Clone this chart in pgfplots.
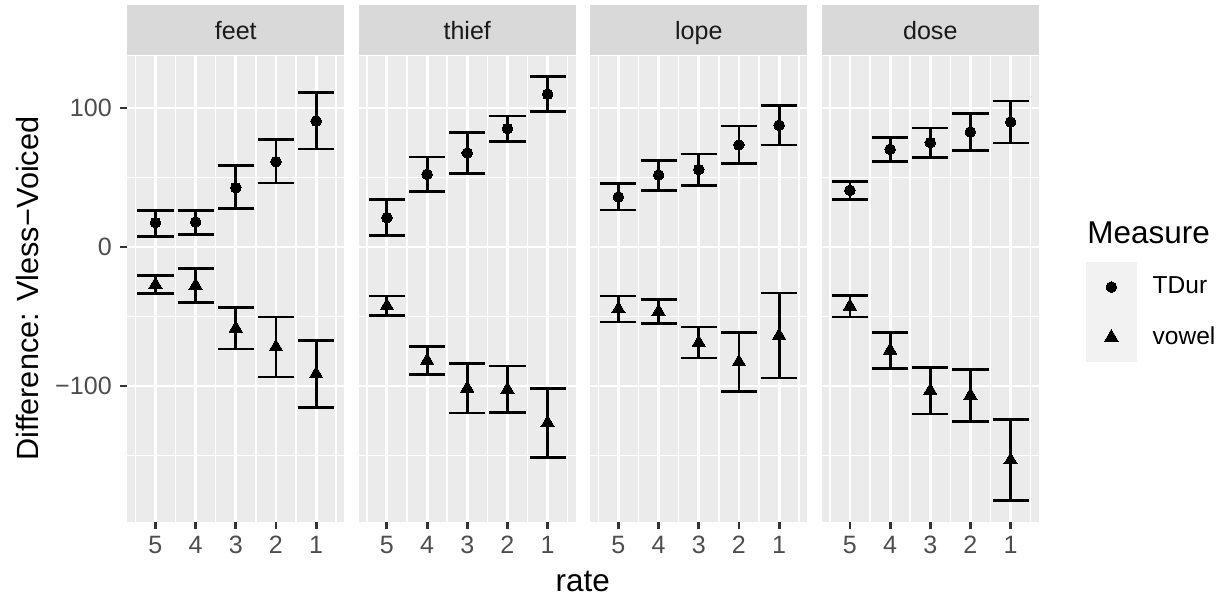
\documentclass[border=0pt]{standalone}
\usepackage{fontspec}
\setmainfont{Liberation Sans}
\usepackage{pgfplots}
\usepackage{pgfplotstable}
\pgfplotsset{compat=1.18}
\definecolor{panelbg}{HTML}{EBEBEB}
\definecolor{stripgrey}{HTML}{D9D9D9}
\definecolor{ticklab}{HTML}{4D4D4D}
\definecolor{tickgrey}{HTML}{333333}
\definecolor{striptext}{HTML}{1A1A1A}
\definecolor{keygrey}{HTML}{F2F2F2}

% x: 1..5 correspond to rate 5,4,3,2,1
\pgfplotstableread{
x y lo hi
1 17.5 7.7 26.4
2 18.0 9.1 26.4
3 42.7 27.6 58.3
4 61.4 46.0 77.3
5 90.6 70.5 111.0
}\feetT
\pgfplotstableread{
x y lo hi
1 -27.1 -33.5 -20.6
2 -27.7 -40.0 -15.5
3 -58.5 -73.4 -43.6
4 -71.9 -93.5 -50.4
5 -91.3 -115.5 -67.1
}\feetV
\pgfplotstableread{
x y lo hi
1 21.1 8.4 34.1
2 52.3 39.9 64.7
3 67.6 53.0 82.3
4 85.2 75.8 94.2
5 109.9 97.4 122.6
}\thiefT
\pgfplotstableread{
x y lo hi
1 -42.4 -49.4 -35.3
2 -81.7 -91.8 -71.7
3 -101.6 -119.4 -83.9
4 -102.4 -119.2 -85.6
5 -126.5 -151.3 -101.7
}\thiefV
\pgfplotstableread{
x y lo hi
1 36.0 26.6 45.6
2 51.8 40.6 62.4
3 55.7 44.2 66.9
4 73.4 60.0 87.0
5 87.6 73.4 101.7
}\lopeT
\pgfplotstableread{
x y lo hi
1 -44.6 -54.0 -35.3
2 -46.4 -54.9 -37.9
3 -68.8 -79.9 -57.6
4 -82.7 -104.0 -61.4
5 -63.7 -94.2 -33.1
}\lopeV
\pgfplotstableread{
x y lo hi
1 40.8 34.1 47.3
2 70.3 61.4 78.9
3 75.1 64.5 85.6
4 82.7 69.4 96.0
5 89.9 74.8 105.0
}\doseT
\pgfplotstableread{
x y lo hi
1 -42.7 -50.4 -35.0
2 -74.3 -87.3 -61.4
3 -103.3 -120.1 -86.5
4 -106.8 -125.4 -88.2
5 -153.2 -182.2 -124.2
}\doseV

\pgfplotsset{
  panel/.style={
    scale only axis, width=81.34pt, height=174.75pt, anchor=south west,
    xmin=0.3, xmax=5.7, ymin=-197.6, ymax=137.6,
    axis background/.style={fill=panelbg},
    axis line style={draw=none},
    xtick={1,2,3,4,5}, xticklabels={5,4,3,2,1},
    ytick={-100,0,100}, yticklabels={−100,0,100},
    minor xtick={0.5,1.5,2.5,3.5,4.5,5.5}, minor ytick={-150,-50,50},
    grid=both,
    major grid style={draw=white, line width=1.07pt},
    minor grid style={draw=white, line width=0.53pt},
    xtick pos=left, ytick pos=left, tick align=outside,
    major tick length=2.75pt, minor tick length=0pt,
    major tick style={draw=tickgrey, line width=1.07pt},
    tick label style={font=\fontsize{9.4}{11}\selectfont, text=ticklab},
    xticklabel style={anchor=north, inner sep=0pt, yshift=-2.4pt},
    yticklabel style={anchor=east, inner sep=0pt, xshift=-2.9pt},
    every axis title shift=0pt,
    title style={at={(0.5,1)}, anchor=south, yshift=0pt, fill=stripgrey,
      minimum width=81.34pt, minimum height=18.64pt, inner sep=0pt,
      text height=6.8pt, text depth=0pt,
      font=\fontsize{9.4}{11}\selectfont, text=striptext},
    label style={font=\fontsize{11.8}{14}\selectfont, text=black},
    legend style={at={(axis description cs:1.218,0.5573)}, anchor=north west,
      draw=none, fill=none, inner sep=0pt, outer sep=0pt, row sep=0pt, column sep=6pt,
      font=\fontsize{9.2}{11}\selectfont, nodes={inner sep=0pt, outer sep=0pt}},
    legend cell align=left,
  },
  nolab/.style={yticklabels={}, ytick style={draw=none}},
  tdur/.style={only marks, mark=*, mark size=2.0pt, color=black,
    mark options={fill=black, draw=black, line width=0pt},
    legend image code/.code={\fill[keygrey] (-9.3pt,-9.2pt) rectangle (9.3pt,9.2pt);
      \draw[##1] plot coordinates {(0pt,0pt)};},
    error bars/y dir=both, error bars/y explicit,
    error bars/error bar style={line width=1.07pt, black},
    error bars/error mark options={rotate=90, line width=1.07pt, mark size=6.78pt, black}},
  vowel/.style={only marks, mark=triangle*, mark size=2.9pt, color=black,
    mark options={fill=black, draw=black, line width=0pt},
    legend image code/.code={\fill[keygrey] (-9.3pt,-9.2pt) rectangle (9.3pt,9.2pt);
      \draw[##1] plot coordinates {(0pt,0pt)};},
    error bars/y dir=both, error bars/y explicit,
    error bars/error bar style={line width=1.07pt, black},
    error bars/error mark options={rotate=90, line width=1.07pt, mark size=6.78pt, black}},
}

\begin{document}
\begin{tikzpicture}
\path[use as bounding box] (0,0) rectangle (460.5pt,225.375pt);

\begin{axis}[panel, at={(47.74pt,29.74pt)}, title=feet,
  ylabel={Difference: Vless−Voiced}, xlabel={rate},
  ylabel style={at={(axis description cs:-0.458,0.5)}, anchor=center, font=\fontsize{11.5}{14}\selectfont},
  xlabel style={at={(axis description cs:2.0996,-0.1502)}, anchor=base}]
\addplot[tdur] table[x=x, y=y, y error plus expr=\thisrow{hi}-\thisrow{y}, y error minus expr=\thisrow{y}-\thisrow{lo}] {\feetT};
\addplot[vowel] table[x=x, y=y, y error plus expr=\thisrow{hi}-\thisrow{y}, y error minus expr=\thisrow{y}-\thisrow{lo}] {\feetV};
\end{axis}

\begin{axis}[panel, nolab, at={(134.55pt,29.74pt)}, title=thief]
\addplot[tdur] table[x=x, y=y, y error plus expr=\thisrow{hi}-\thisrow{y}, y error minus expr=\thisrow{y}-\thisrow{lo}] {\thiefT};
\addplot[vowel] table[x=x, y=y, y error plus expr=\thisrow{hi}-\thisrow{y}, y error minus expr=\thisrow{y}-\thisrow{lo}] {\thiefV};
\end{axis}

\begin{axis}[panel, nolab, at={(221.36pt,29.74pt)}, title=lope]
\addplot[tdur] table[x=x, y=y, y error plus expr=\thisrow{hi}-\thisrow{y}, y error minus expr=\thisrow{y}-\thisrow{lo}] {\lopeT};
\addplot[vowel] table[x=x, y=y, y error plus expr=\thisrow{hi}-\thisrow{y}, y error minus expr=\thisrow{y}-\thisrow{lo}] {\lopeV};
\end{axis}

\begin{axis}[panel, nolab, at={(308.18pt,29.74pt)}, title=dose]
\addplot[tdur] table[x=x, y=y, y error plus expr=\thisrow{hi}-\thisrow{y}, y error minus expr=\thisrow{y}-\thisrow{lo}] {\doseT};
\addlegendentry{TDur}
\addplot[vowel] table[x=x, y=y, y error plus expr=\thisrow{hi}-\thisrow{y}, y error minus expr=\thisrow{y}-\thisrow{lo}] {\doseV};
\addlegendentry{vowel}
\end{axis}

\node[anchor=base west, inner sep=0pt, font=\fontsize{11.8}{14}\selectfont] at (407.6pt,134.1pt) {Measure};
\end{tikzpicture}
\end{document}
